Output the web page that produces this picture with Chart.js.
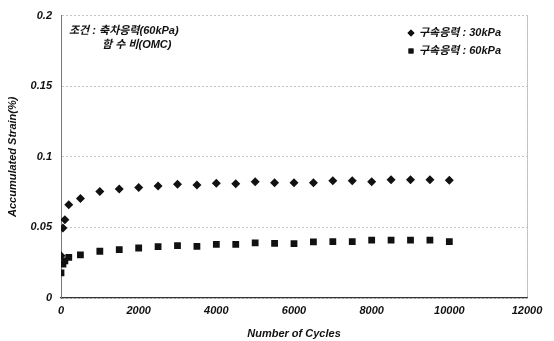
<!DOCTYPE html>
<html>
<head>
<meta charset="utf-8">
<script src="https://cdn.jsdelivr.net/npm/chart.js@4"></script>
<style>
  html, body { margin: 0; padding: 0; background: #fff; }
  #wrap { width: 554px; height: 341px; position: relative; }
</style>
</head>
<body>
<div id="wrap"><canvas id="strainChart"></canvas></div>
<script>
const cycles30 = [0, 50, 100, 200, 500, 1000, 1500, 2000, 2500, 3000, 3500, 4000, 4500, 5000, 5500, 6000, 6500, 7000, 7500, 8000, 8500, 9000, 9500, 10000];
const strain30 = [0.030, 0.0495, 0.0555, 0.066, 0.0705, 0.0755, 0.0772, 0.0782, 0.0794, 0.0805, 0.080, 0.0812, 0.081, 0.0824, 0.0817, 0.0817, 0.0817, 0.083, 0.083, 0.0824, 0.0838, 0.0838, 0.0838, 0.0834];
const cycles60 = [0, 50, 100, 200, 500, 1000, 1500, 2000, 2500, 3000, 3500, 4000, 4500, 5000, 5500, 6000, 6500, 7000, 7500, 8000, 8500, 9000, 9500, 10000];
const strain60 = [0.0178, 0.024, 0.0263, 0.0287, 0.0305, 0.0331, 0.0343, 0.0354, 0.0364, 0.0371, 0.0366, 0.038, 0.038, 0.039, 0.0387, 0.0385, 0.0397, 0.040, 0.040, 0.041, 0.041, 0.041, 0.041, 0.040];
const seriesNames = ['구속응력 : 30kPa', '구속응력 : 60kPa'];
const yTickLabels = ['0', '0.05', '0.1', '0.15', '0.2'];
const xTickLabels = ['0', '2000', '4000', '6000', '8000', '10000', '12000'];
const noteLines = ['조건 : 축차응력(60kPa)', '함 수 비(OMC)'];

const FONT = '"Liberation Sans", Arial, "Noto Sans CJK KR", sans-serif';
const INK = '#111';

const toPoints = (xs, ys) => xs.map((x, i) => ({ x: x, y: ys[i] }));

// frame, note and legend inside the plot
const overlay = {
  id: 'overlay',
  afterDraw(chart) {
    const c = chart.ctx;
    const a = chart.chartArea;
    c.save();
    // right border (dotted)
    c.strokeStyle = '#888';
    c.lineWidth = 1;
    c.setLineDash([1, 1]);
    c.beginPath();
    c.moveTo(a.right + 0.5, a.top);
    c.lineTo(a.right + 0.5, a.bottom);
    c.stroke();
    c.setLineDash([]);

    c.fillStyle = INK;
    c.font = 'italic bold 11px ' + FONT;
    c.textBaseline = 'middle';
    c.textAlign = 'left';
    c.fillText(noteLines[0], 69, 31);
    c.fillText(noteLines[1], 102, 45);

    // legend
    const items = [{ style: 'rectRot', y: 33 }, { style: 'rect', y: 51 }];
    items.forEach((it, i) => {
      Chart.helpers.drawPoint(c, { pointStyle: it.style, radius: 3.5, borderWidth: 0 }, 411, it.y);
      c.fill();
      c.fillText(seriesNames[i], 419, it.y);
    });
    c.restore();
  }
};

new Chart(document.getElementById('strainChart'), {
  type: 'scatter',
  data: {
    datasets: [
      {
        label: seriesNames[0],
        data: toPoints(cycles30, strain30),
        pointStyle: 'rectRot',
        pointRadius: 4.5,
        backgroundColor: INK,
        borderColor: INK,
        borderWidth: 0
      },
      {
        label: seriesNames[1],
        data: toPoints(cycles60, strain60),
        pointStyle: 'rect',
        pointRadius: 4.8,
        backgroundColor: INK,
        borderColor: INK,
        borderWidth: 0
      }
    ]
  },
  options: {
    responsive: true,
    maintainAspectRatio: false,
    animation: false,
    layout: { padding: { top: 9, right: 27, left: 0, bottom: 0 } },
    plugins: {
      legend: { display: false },
      tooltip: { enabled: false }
    },
    scales: {
      x: {
        type: 'linear',
        min: 0,
        max: 12000,
        afterBuildTicks: s => { s.ticks = xTickLabels.map(Number).map(v => ({ value: v })); },
        afterFit: s => { s.height = 43; },
        ticks: {
          color: INK,
          padding: 6,
          maxRotation: 0,
          font: { family: FONT, size: 11, style: 'italic', weight: 'bold' },
          callback: (v, i) => xTickLabels[i]
        },
        grid: { display: false, drawTicks: false },
        border: { color: '#333', width: 1.3 },
        title: {
          display: true,
          text: 'Number of Cycles',
          color: INK,
          padding: { top: 2, bottom: 0 },
          font: { family: FONT, size: 11, style: 'italic', weight: 'bold' }
        }
      },
      y: {
        min: 0,
        max: 0.2,
        afterBuildTicks: s => { s.ticks = yTickLabels.map(Number).map(v => ({ value: v })); },
        afterFit: s => { s.width = 61; },
        ticks: {
          color: INK,
          padding: 9,
          font: { family: FONT, size: 11, style: 'italic', weight: 'bold' },
          callback: (v, i) => yTickLabels[i]
        },
        grid: {
          color: '#c4c4c4',
          lineWidth: 1,
          drawTicks: false
        },
        border: { color: '#777', dash: [2, 2], width: 1 },
        title: {
          display: true,
          text: 'Accumulated Strain(%)',
          color: INK,
          padding: { top: 6, bottom: 2 },
          font: { family: FONT, size: 11, style: 'italic', weight: 'bold' }
        }
      }
    }
  },
  plugins: [overlay]
});
</script>
</body>
</html>
